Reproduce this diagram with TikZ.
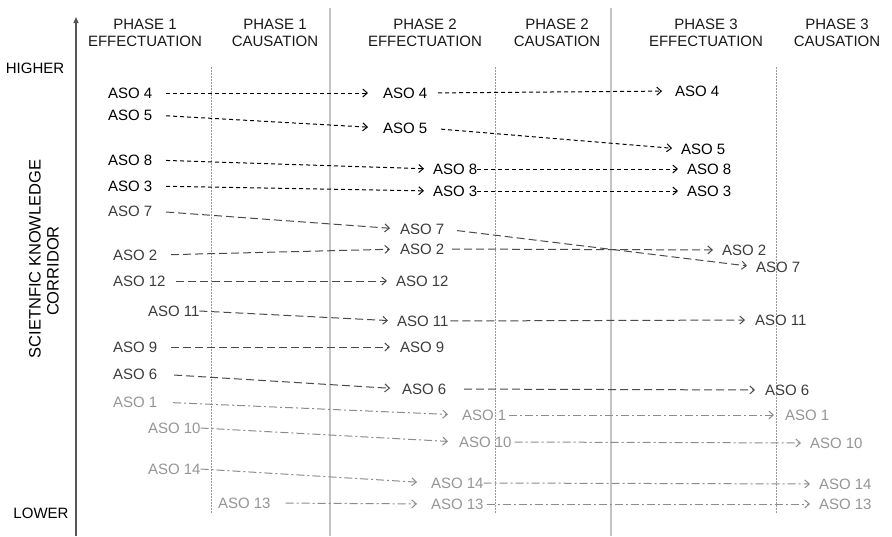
\documentclass[tikz,border=0pt]{standalone}
\usepackage{fontspec}
\setmainfont{Liberation Sans}
\usetikzlibrary{arrows.meta}
\definecolor{tdark}{HTML}{3C3C3C}
\definecolor{tlight}{HTML}{959595}
\definecolor{ldark}{HTML}{4A4A4A}
\definecolor{llight}{HTML}{8C8C8C}
\definecolor{gridsolid}{HTML}{C4C4C4}
\definecolor{griddot}{HTML}{9A9A9A}
\definecolor{axiscol}{HTML}{555555}
\begin{document}
\begin{tikzpicture}[x=1pt,y=-1pt,
  every node/.style={font=\fontsize{15}{17}\selectfont, inner sep=0pt, outer sep=0pt},
  hdr/.style={align=center, text=black!90},
  asoA/.style={anchor=west, text=black},
  asoB/.style={anchor=west, text=tdark},
  asoC/.style={anchor=west, text=tlight},
  tipstyle/.style={-{Straight Barb[length=4.5pt,width=8pt]}},
  gA/.style={tipstyle, draw=black, line width=1pt, dash pattern=on 4pt off 3pt},
  gB/.style={tipstyle, draw=ldark, line width=1pt, dash pattern=on 8pt off 4pt},
  gC/.style={tipstyle, draw=llight, line width=1pt, dash pattern=on 8pt off 3pt on 2pt off 3pt},
  solidgrid/.style={draw=gridsolid, line width=1.5pt},
  dotgrid/.style={draw=griddot, line width=0.8pt, dash pattern=on 1.5pt off 1.5pt},
  axisline/.style={draw=axiscol, line width=1.3pt, -{Triangle[length=6pt,width=5pt]}}
]
\useasboundingbox (0,0) rectangle (892,536);

% grid lines
\coordinate (s1t) at (330,8);   \coordinate (s1b) at (330,536);
\coordinate (s2t) at (611,8);   \coordinate (s2b) at (611,536);
\coordinate (d1t) at (211,67);  \coordinate (d1b) at (211,513);
\coordinate (d2t) at (495,67);  \coordinate (d2b) at (495,513);
\coordinate (d3t) at (776,67);  \coordinate (d3b) at (776,513);
\draw[solidgrid] (s1t) -- (s1b);
\draw[solidgrid] (s2t) -- (s2b);
\draw[dotgrid] (d1t) -- (d1b);
\draw[dotgrid] (d2t) -- (d2b);
\draw[dotgrid] (d3t) -- (d3b);

% axis
\coordinate (axb) at (76,536);
\coordinate (axt) at (76,17);
\draw[axisline] (axb) -- (axt);

% headers
\node[hdr] (h1) at (145,32.5) {PHASE 1\\EFFECTUATION};
\node[hdr] (h2) at (275,32.5) {PHASE 1\\CAUSATION};
\node[hdr] (h3) at (425,32.5) {PHASE 2\\EFFECTUATION};
\node[hdr] (h4) at (557,32.5) {PHASE 2\\CAUSATION};
\node[hdr] (h5) at (706,32.5) {PHASE 3\\EFFECTUATION};
\node[hdr] (h6) at (837,32.5) {PHASE 3\\CAUSATION};

\node[text=black] (higher) at (35,68) {HIGHER};
\node[text=black] (lower) at (41,513) {LOWER};
\node[rotate=90, font=\fontsize{16.5}{18}\selectfont] (lab1) at (35,259) {SCIETNFIC KNOWLEDGE};
\node[rotate=90, font=\fontsize{16.5}{18}\selectfont] (lab2) at (53,271) {CORRIDOR};

% column 1
\node[asoA] (a4) at (108,93) {ASO 4};
\node[asoA] (a5) at (108,115) {ASO 5};
\node[asoA] (a8) at (108,160) {ASO 8};
\node[asoA] (a3) at (108,186) {ASO 3};
\node[asoB] (a7) at (108,211) {ASO 7};
\node[asoB] (a2) at (113,255) {ASO 2};
\node[asoB] (a12) at (113,281) {ASO 12};
\node[asoB] (a11) at (148,311) {ASO 11};
\node[asoB] (a9) at (113,347) {ASO 9};
\node[asoB] (a6) at (113,374) {ASO 6};
\node[asoC] (a1) at (113,402) {ASO 1};
\node[asoC] (a10) at (148,428) {ASO 10};
\node[asoC] (a14) at (148,469) {ASO 14};
\node[asoC] (a13) at (218,503) {ASO 13};

% column 2
\node[asoA] (b4) at (383,93) {ASO 4};
\node[asoA] (b5) at (383,128) {ASO 5};
\node[asoA] (b8) at (433,169) {ASO 8};
\node[asoA] (b3) at (433,191) {ASO 3};
\node[asoB] (b7) at (400,229) {ASO 7};
\node[asoB] (b2) at (400,249) {ASO 2};
\node[asoB] (b12) at (396,281) {ASO 12};
\node[asoB] (b11) at (397,321) {ASO 11};
\node[asoB] (b9) at (400,347) {ASO 9};
\node[asoB] (b6) at (402,389) {ASO 6};
\node[asoC] (b1) at (462,415) {ASO 1};
\node[asoC] (b10) at (459,442) {ASO 10};
\node[asoC] (b14) at (431,483) {ASO 14};
\node[asoC] (b13) at (431,504) {ASO 13};

% column 3
\node[asoA] (r4) at (675,91) {ASO 4};
\node[asoA] (r5) at (681,149) {ASO 5};
\node[asoA] (r8) at (687,169) {ASO 8};
\node[asoA] (r3) at (687,191) {ASO 3};
\node[asoB] (r2) at (722,250) {ASO 2};
\node[asoB] (r7) at (756,267) {ASO 7};
\node[asoB] (r11) at (755,320) {ASO 11};
\node[asoB] (r6) at (765,390) {ASO 6};
\node[asoC] (r1) at (785,415) {ASO 1};
\node[asoC] (r10) at (810,443) {ASO 10};
\node[asoC] (r14) at (819,484) {ASO 14};
\node[asoC] (r13) at (819,504) {ASO 13};

% connectors
\draw[gA, shorten <=14pt, shorten >=15pt] (a4.east) -- (b4.west);
\draw[gA, shorten <=11pt, shorten >=13pt] (b4.east) -- (r4.west);
\draw[gA, shorten <=14pt, shorten >=15pt] (a5.east) -- (b5.west);
\draw[gA, shorten <=14pt, shorten >=9pt] (b5.east) -- (r5.west);
\draw[gA, shorten <=14pt, shorten >=9pt] (a8.east) -- (b8.west);
\draw[gA, shorten <=0pt, shorten >=9pt] (b8.east) -- (r8.west);
\draw[gA, shorten <=14pt, shorten >=9pt] (a3.east) -- (b3.west);
\draw[gA, shorten <=0pt, shorten >=9pt] (b3.east) -- (r3.west);

\draw[gB, shorten <=14pt, shorten >=10pt] (a7.east) -- (b7.west);
\draw[gB, shorten <=13pt, shorten >=9pt] (b7.east) -- (r7.west);
\draw[gB, shorten <=14pt, shorten >=10pt] (a2.east) -- (b2.west);
\draw[gB, shorten <=8pt, shorten >=9pt] (b2.east) -- (r2.west);
\draw[gB, shorten <=10pt, shorten >=9pt] (a12.east) -- (b12.west);
\draw[gB, shorten <=0pt, shorten >=9pt] (a11.east) -- (b11.west);
\draw[gB, shorten <=2pt, shorten >=10pt] (b11.east) -- (r11.west);
\draw[gB, shorten <=14pt, shorten >=10pt] (a9.east) -- (b9.west);
\draw[gB, shorten <=17pt, shorten >=12pt] (a6.east) -- (b6.west);
\draw[gB, shorten <=18pt, shorten >=10pt] (b6.east) -- (r6.west);

\draw[gC, shorten <=16pt, shorten >=14pt] (a1.east) -- (b1.west);
\draw[gC, shorten <=3pt, shorten >=11pt] (b1.east) -- (r1.west);
\draw[gC, shorten <=0pt, shorten >=11pt] (a10.east) -- (b10.west);
\draw[gC, shorten <=3pt, shorten >=9pt] (b10.east) -- (r10.west);
\draw[gC, shorten <=0pt, shorten >=14pt] (a14.east) -- (b14.west);
\draw[gC, shorten <=0pt, shorten >=9pt] (b14.east) -- (r14.west);
\draw[gC, shorten <=15pt, shorten >=14pt] (a13.east) -- (b13.west);
\draw[gC, shorten <=3pt, shorten >=9pt] (b13.east) -- (r13.west);
\end{tikzpicture}
\end{document}
